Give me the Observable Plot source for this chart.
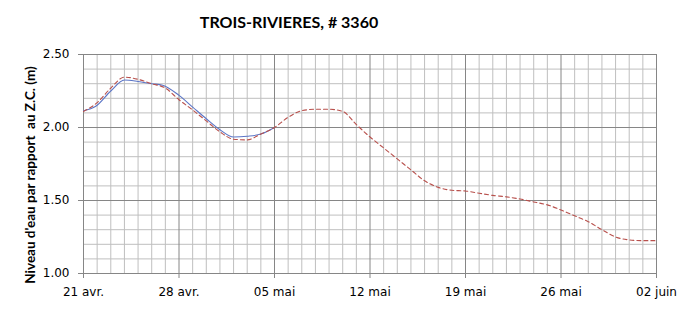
<!DOCTYPE html>
<html>
<head>
<meta charset="utf-8">
<script src="https://cdn.jsdelivr.net/npm/d3@7"></script>
<script src="https://cdn.jsdelivr.net/npm/@observablehq/plot@0.6"></script>
<style>
  html, body { margin: 0; padding: 0; background: #fff; }
  #chart svg { display: block; }
</style>
</head>
<body>
<div id="chart"></div>
<script>
// ---- Data ----
const titleText = "TROIS-RIVIERES, # 3360";
const yTitle = "Niveau d'eau par rapport  au Z.C. (m)";
const startDate = "2024-04-21";
const endDate = "2024-06-02";

// Predicted (red dashed): day offsets from 21 avr. and water levels (m)
const predDays = [0, 1, 2, 3, 4, 5, 6, 7, 8, 9, 10, 11, 12, 13, 14, 15, 16, 17, 18, 19, 20, 21,
  22, 23, 24, 25, 26, 27, 28, 29, 30, 31, 32, 33, 34, 35, 36, 37, 38, 39, 40, 41, 42];
const predLevels = [2.11, 2.17, 2.27, 2.345, 2.33, 2.30, 2.27, 2.19, 2.12, 2.045, 1.97, 1.92, 1.915, 1.955, 2.00,
  2.07, 2.115, 2.125, 2.125, 2.11, 2.02, 1.935, 1.86, 1.785, 1.71, 1.635, 1.59, 1.57, 1.565, 1.55,
  1.535, 1.525, 1.51, 1.49, 1.47, 1.435, 1.395, 1.355, 1.30, 1.25, 1.23, 1.225, 1.225];

// Observed (blue solid)
const obsDays = [0, 0.9, 2, 3, 4, 5, 5.8, 7, 8, 9, 10, 11, 12, 13, 14];
const obsLevels = [2.115, 2.145, 2.25, 2.325, 2.315, 2.30, 2.29, 2.22, 2.14, 2.06, 1.985, 1.935, 1.94, 1.955, 2.00];

// Axis ticks
const xTickLabels = ["21 avr.", "28 avr.", "05 mai", "12 mai", "19 mai", "26 mai", "02 juin"];
const xTickDays = [0, 7, 14, 21, 28, 35, 42];
const yTicks = [1.00, 1.50, 2.00, 2.50];
const gridDays = d3.range(0, 43);
const gridLevels = [1.0, 1.1, 1.2, 1.3, 1.4, 1.5, 1.6, 1.7, 1.8, 1.9, 2.0, 2.1, 2.2, 2.3, 2.4, 2.5];

// ---- Build ----
const t0 = new Date(startDate + "T00:00:00Z");
const toDate = (d) => new Date(t0.getTime() + d * 86400000);
const pred = predDays.map((d, i) => ({date: toDate(d), v: predLevels[i]}));
const obs = obsDays.map((d, i) => ({date: toDate(d), v: obsLevels[i]}));
const gridX = gridDays.map((d) => ({date: toDate(d), major: d % 7 === 0}));
const gridY = gridLevels.map((v) => ({v, major: Math.abs(v * 2 - Math.round(v * 2)) < 1e-6}));
const xTickDates = xTickDays.map(toDate);
const labelFor = new Map(xTickDates.map((d, i) => [+d, xTickLabels[i]]));

const chart = Plot.plot({
  width: 696,
  height: 311,
  marginLeft: 83,
  marginRight: 40,
  marginTop: 54,
  marginBottom: 38,
  style: {fontFamily: "'DejaVu Sans', Verdana, sans-serif", fontSize: "12px", color: "#000", background: "#fff"},
  x: {type: "utc", domain: [toDate(0), toDate(42)]},
  y: {domain: [1.0, 2.5]},
  marks: [
    Plot.ruleX(gridX.filter(d => !d.major), {x: "date", stroke: "#bfbfbf", strokeWidth: 1}),
    Plot.ruleY(gridY.filter(d => !d.major), {y: "v", stroke: "#bfbfbf", strokeWidth: 1}),
    Plot.ruleX(gridX.filter(d => d.major), {x: "date", stroke: "#868686", strokeWidth: 1}),
    Plot.ruleY(gridY.filter(d => d.major), {y: "v", stroke: "#868686", strokeWidth: 1}),
    Plot.axisX({ticks: xTickDates, tickFormat: d => labelFor.get(+d), tickSize: 5, tickPadding: 9,
      stroke: "#868686", color: "#000", fontSize: 12, label: null}),
    Plot.axisY({ticks: yTicks, tickFormat: d3.format(".2f"), tickSize: 5, tickPadding: 9,
      stroke: "#868686", color: "#000", fontSize: 12, label: null}),
    Plot.line(obs, {x: "date", y: "v", stroke: "#5b75c6", strokeWidth: 1.1, curve: "monotone-x"}),
    Plot.line(pred, {x: "date", y: "v", stroke: "#b8504c", strokeWidth: 1.1, strokeDasharray: "4,3", curve: "monotone-x"}),
    Plot.text([titleText], {frameAnchor: "top", dx: -81, dy: -32, lineAnchor: "middle",
      fontFamily: "Lato, 'Open Sans', sans-serif", fontWeight: "bold", fontSize: 16, fill: "#000"}),
    Plot.text([yTitle], {frameAnchor: "left", dx: -53, dy: 11, rotate: -90, lineAnchor: "middle", textAnchor: "middle",
      fontFamily: "Lato, 'Open Sans', sans-serif", fontWeight: "bold", fontSize: 13.5, fill: "#000"})
  ]
});
document.getElementById("chart").appendChild(chart);
</script>
</body>
</html>
